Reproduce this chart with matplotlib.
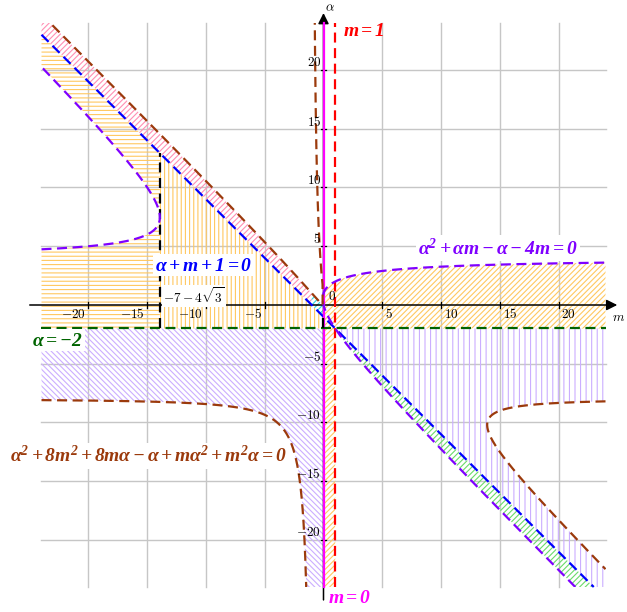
import numpy as np
import matplotlib
matplotlib.use("Agg")
import matplotlib.pyplot as plt
from matplotlib.patches import Rectangle

plt.rcParams['mathtext.fontset'] = 'custom'
plt.rcParams['mathtext.rm'] = 'Liberation Serif'
plt.rcParams['mathtext.it'] = 'Liberation Serif:italic'
plt.rcParams['mathtext.bf'] = 'Liberation Serif:italic:bold'
plt.rcParams['hatch.linewidth'] = 0.8

# plot box and ticks
LIM = 24
TICKS = [-20, -15, -10, -5, 5, 10, 15, 20]

# special values
M_LEFT = -7 - 4 * np.sqrt(3)    # purple curve nose (left)
M_RIGHT = -7 + 4 * np.sqrt(3)   # purple curve nose (near origin)
M_NOSE = 7 + 4 * np.sqrt(3)     # brown curve nose (right)
ALPHA_H = -2                    # alpha = -2
M_RED = 1                       # m = 1
M_MAG = 0                       # m = 0

# colours
C_BLUE = '#0000FF'
C_PURPLE = '#7F00FF'
C_BROWN = '#9B3A0C'
C_RED = '#FF0000'
C_MAG = '#FF00FF'
C_GREEN = '#006400'
H_ORANGE = '#FFC860'
H_PURPLE = '#CBAEFF'
H_PINK = '#FF8FB3'
H_GREEN = '#6ADB6A'
H_CYAN = '#2ED8E0'

DASH = (0, (4.5, 2.5))
LABEL_FS = 14


def purple_branches(m):
    # alpha^2 + alpha*m - alpha - 4m = 0
    r = np.sqrt(np.maximum(m**2 + 14 * m + 1, 0))
    return (1 - m + r) / 2, (1 - m - r) / 2


def brown_branches(m):
    # alpha^2 + 8m^2 + 8m*alpha - alpha + m*alpha^2 + m^2*alpha = 0
    B = m**2 + 8 * m - 1
    S = np.abs(m - 1) * np.sqrt(np.maximum(m**2 - 14 * m + 1, 0))
    with np.errstate(divide='ignore', invalid='ignore'):
        plus = (-B + S) / (2 * (1 + m))
        minus = 16 * m**2 / (S - B)
    return plus, minus


fig = plt.figure(figsize=(6.27, 6.12), dpi=100)
ax = fig.add_axes([0, 0, 1, 1])
ax.set_xlim(-323.5 / 11.75, 303.5 / 11.75)
ax.set_ylim(-307 / 11.75, 305 / 11.75)
ax.axis('off')

box = Rectangle((-LIM, -LIM), 2 * LIM, 2 * LIM, transform=ax.transData,
                facecolor='none', edgecolor='none')

# grid
for v in TICKS:
    ax.plot([v, v], [-LIM, LIM], color='#c6c6c6', lw=1.0, zorder=0.5)
    ax.plot([-LIM, LIM], [v, v], color='#c6c6c6', lw=1.0, zorder=0.5)


def hatch_fill(m, lo, hi, color, hatch):
    poly = ax.fill_between(m, lo, hi, facecolor='none', edgecolor=color,
                           linewidth=0, hatch=hatch, zorder=1)
    poly.set_clip_path(box)


s = np.linspace(0, 1, 800)

# orange, left of the nose (horizontal hatch)
mL = M_LEFT - (M_LEFT + LIM) * (1 - s)**2
up, lo = purple_branches(mL)
hatch_fill(mL, ALPHA_H, lo, H_ORANGE, '----')
hatch_fill(mL, up, -mL - 1, H_ORANGE, '----')

# orange, vertical hatch
mm = np.linspace(M_LEFT, M_RIGHT, 400)
hatch_fill(mm, ALPHA_H, -mm - 1, H_ORANGE, '||||')

# orange, right (diagonal)
m01 = np.linspace(0, 1, 200)
hatch_fill(m01, -LIM, purple_branches(m01)[0], H_ORANGE, '//////')
m1r = np.linspace(1, LIM, 600)
hatch_fill(m1r, ALPHA_H, purple_branches(m1r)[0], H_ORANGE, '//////')

# purple, left (diagonal)
mP = np.linspace(-LIM, 0, 2000)
bplus = brown_branches(mP)[0]
lowP = np.where(mP < -1, np.maximum(np.nan_to_num(bplus, neginf=-LIM), -LIM), -LIM)
hatch_fill(mP, lowP, ALPHA_H, H_PURPLE, '\\\\\\\\\\\\')

# purple, right (vertical)
mA = np.linspace(1, M_NOSE, 400)
hatch_fill(mA, np.maximum(-mA - 1, -LIM), ALPHA_H, H_PURPLE, '|||')
mB = M_NOSE + (LIM - M_NOSE) * s**2
bp, bm = brown_branches(mB)
hatch_fill(mB, bp, ALPHA_H, H_PURPLE, '|||')
hatch_fill(mB, np.maximum(-mB - 1, -LIM), bm, H_PURPLE, '|||')

# green band
mG = np.linspace(1, LIM, 600)
hatch_fill(mG, np.maximum(purple_branches(mG)[1], -LIM),
           np.maximum(-mG - 1, -LIM), H_GREEN, '//////')

# pink band
mK = np.linspace(-LIM, -1.0005, 800)
hatch_fill(mK, -mK - 1, brown_branches(mK)[1], H_PINK, '//////')

# cyan bit near origin
mC = np.linspace(-0.9995, M_RIGHT, 200)
hatch_fill(mC, -mC - 1, brown_branches(mC)[1], H_CYAN, '//////')

# axes with arrows
ax.annotate('', xy=(25, 0), xytext=(-25, 0), zorder=2,
            arrowprops=dict(arrowstyle='-|>', color='black', lw=1.1,
                            mutation_scale=16, shrinkA=0, shrinkB=0))
ax.annotate('', xy=(0, 24.85), xytext=(0, -25.1), zorder=2,
            arrowprops=dict(arrowstyle='-|>', color='black', lw=1.1,
                            mutation_scale=16, shrinkA=0, shrinkB=0))
for v in TICKS:
    ax.plot([v, v], [-0.22, 0.22], color='black', lw=0.9, zorder=2)
    ax.plot([-0.22, 0.22], [v, v], color='black', lw=0.9, zorder=2)

# tick labels
for v in TICKS:
    if v < 0:
        ax.text(v - 0.25, -0.8, f'$-{abs(v)}$', ha='right', va='center',
                fontsize=9.5, math_fontfamily='cm', zorder=4)
    else:
        ax.text(v + 0.25, -0.8, f'${v}$', ha='left', va='center',
                fontsize=9.5, math_fontfamily='cm', zorder=4)
    ax.text(-0.2, v + 0.6, f'${v}$', ha='right', va='center',
            fontsize=9.5, math_fontfamily='cm', zorder=4)
ax.text(0.35, 0.7, '$0$', ha='left', va='center', fontsize=9.5,
        math_fontfamily='cm', zorder=4)
ax.text(24.55, -1.1, '$m$', ha='left', va='center', fontsize=9.5,
        math_fontfamily='cm', zorder=4)
ax.text(0.55, 25.3, r'$\alpha$', ha='center', va='center', fontsize=9.5,
        math_fontfamily='cm', zorder=4)

# straight lines
blue_m = np.array([-LIM, LIM - 1])
ax.plot(blue_m, -blue_m - 1, color=C_BLUE, lw=1.6, ls=DASH, zorder=3)
ax.plot([M_RED, M_RED], [-LIM, LIM], color=C_RED, lw=1.6, ls=DASH, zorder=3)
ax.plot([M_MAG, M_MAG], [-LIM, LIM], color=C_MAG, lw=1.6, zorder=3)
ax.plot([-LIM, LIM], [ALPHA_H, ALPHA_H], color=C_GREEN, lw=1.6, ls=DASH, zorder=3)
ax.plot([M_LEFT, M_LEFT], [ALPHA_H, -M_LEFT - 1], color='black', lw=1.6,
        ls=DASH, zorder=3)
ax.plot([M_RIGHT, M_RIGHT], [ALPHA_H, -M_RIGHT - 1], color='black', lw=1.6,
        ls=DASH, zorder=3)

# purple curve, parametrised by alpha
p_up, p_lo = purple_branches(np.array(-float(LIM)))
a1 = np.linspace(p_lo, p_up, 600)
a2 = np.linspace(-LIM, purple_branches(np.array(float(LIM)))[0], 1500)
for a in (a1, a2):
    ln, = ax.plot(a * (1 - a) / (a - 4), a, color=C_PURPLE, lw=1.6, ls=DASH, zorder=3)
    ln.set_clip_path(box)

# brown curve pieces
m_a = M_RIGHT - (M_RIGHT + LIM) * (1 - s)**2
m_b = M_RIGHT - (M_RIGHT + 1) * np.linspace(0, 0.9995, 3000)**2
al_a = brown_branches(m_a)[1]
al_b = brown_branches(m_b)[0]
keep = al_b < 30
piece1 = (np.concatenate([m_a, m_b[keep]]), np.concatenate([al_a, al_b[keep]]))
m_c = np.linspace(-LIM, -1.3, 2000)
piece2 = (m_c, brown_branches(m_c)[0])
m_d = M_NOSE + (LIM - M_NOSE) * s**2
bp, bm = brown_branches(m_d)
piece3 = (np.concatenate([m_d[::-1], m_d]), np.concatenate([bp[::-1], bm]))
for mx, ay in (piece1, piece2, piece3):
    ln, = ax.plot(mx, ay, color=C_BROWN, lw=1.6, ls=DASH, zorder=3)
    ln.set_clip_path(box)

# labels
wb = dict(boxstyle='square,pad=0.1', fc='white', ec='none')
ax.text(1.66, 23.4, r'$\mathbf{m=1}$', color=C_RED, fontsize=LABEL_FS,
        ha='left', va='center', zorder=5)
ax.text(0.4, -24.9, r'$\mathbf{m=0}$', color=C_MAG, fontsize=LABEL_FS,
        ha='left', va='center', zorder=5)
ax.text(-14.34, 3.4, r'$\mathbf{\alpha+m+1=0}$', color=C_BLUE, fontsize=LABEL_FS,
        ha='left', va='center', zorder=5, bbox=wb)
ax.text(8.04, 4.85, r'$\mathbf{\alpha^2+\alpha m-\alpha-4m=0}$', color=C_PURPLE,
        fontsize=LABEL_FS, ha='left', va='center', zorder=5, bbox=wb)
ax.text(-24.8, -2.98, r'$\mathbf{\alpha=-2}$', color=C_GREEN, fontsize=LABEL_FS,
        ha='left', va='center', zorder=5, bbox=wb)
ax.text(-26.7, -12.85,
        r'$\mathbf{\alpha^2+8m^2+8m\alpha-\alpha+m\alpha^2+m^2\alpha=0}$',
        color=C_BROWN, fontsize=LABEL_FS, ha='left', va='center', zorder=5, bbox=wb)
ax.text(-13.66, 0.77, r'$-7-4\sqrt{3}$', fontsize=9.5, math_fontfamily='cm',
        ha='left', va='center', zorder=5, bbox=wb)

fig.savefig('out.png', dpi=100, facecolor='white')
